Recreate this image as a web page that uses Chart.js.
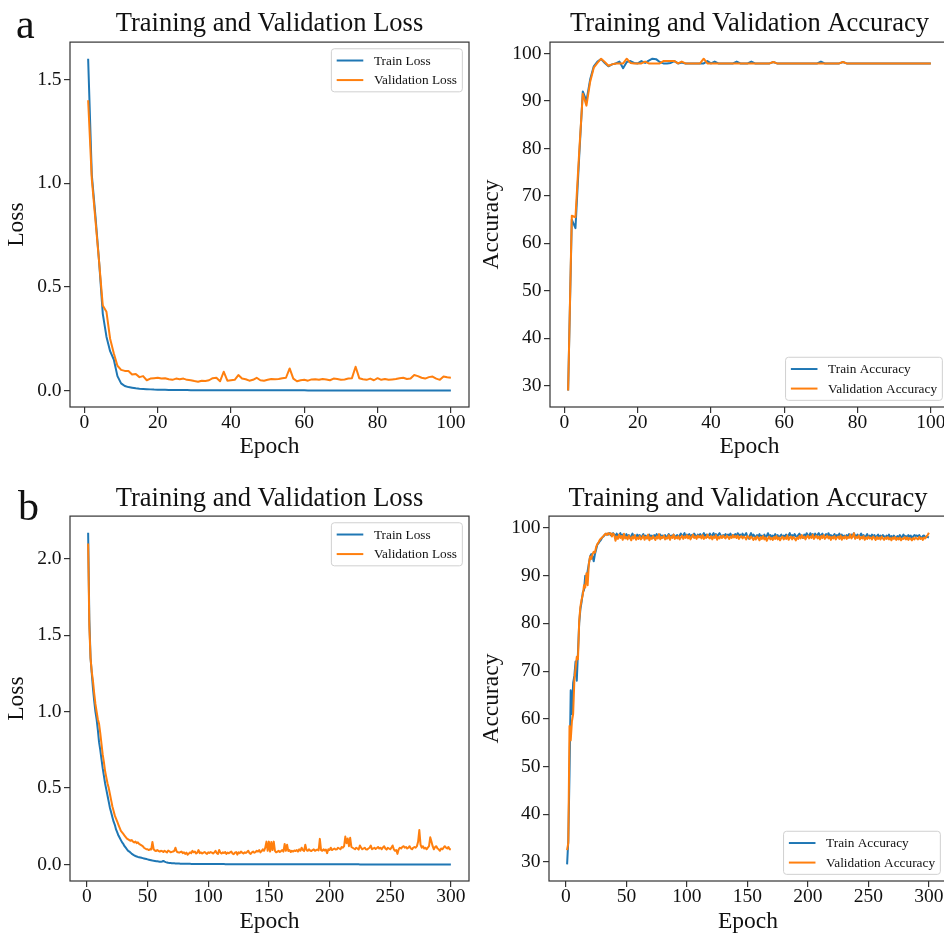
<!DOCTYPE html>
<html>
<head>
<meta charset="utf-8">
<script src="https://cdn.jsdelivr.net/npm/chart.js@4/dist/chart.umd.min.js"></script>
<style>
  html, body { margin: 0; padding: 0; background: #fff; overflow: hidden; }
  #wrap { position: relative; width: 944px; height: 934px; overflow: hidden; background: #fff; }
  canvas { position: absolute; }
  .panel { position: absolute; font-family: "Liberation Serif", "Times New Roman", serif; font-size: 42px; line-height: 42px; color: #111; }
</style>
</head>
<body>
<div id="wrap">
  <canvas id="cA1" width="472" height="470" style="left:0;top:0"></canvas>
  <canvas id="cA2" width="480" height="470" style="left:472px;top:0"></canvas>
  <canvas id="cB1" width="472" height="470" style="left:0;top:470px"></canvas>
  <canvas id="cB2" width="480" height="470" style="left:472px;top:470px"></canvas>
  <div class="panel" style="left:16px;top:3px">a</div>
  <div class="panel" style="left:18px;top:485px">b</div>
</div>
<script>
// ---------------- DATA ----------------
const seriesLabelsLoss = ["Train Loss", "Validation Loss"];
const seriesLabelsAcc = ["Train Accuracy", "Validation Accuracy"];

const lossTicks = [0.0, 0.5, 1.0, 1.5];
const lossTicksB = [0.0, 0.5, 1.0, 1.5, 2.0];
const accTicks = [30, 40, 50, 60, 70, 80, 90, 100];
const epochTicksA = [0, 20, 40, 60, 80, 100];
const epochTicksB = [0, 50, 100, 150, 200, 250, 300];

// Panel a: 100 epochs
const trainLossA = [
1.60,1.04,0.84,0.62,0.37,0.26,0.19,0.15,0.07,0.035,
0.022,0.017,0.014,0.011,0.009,0.008,0.007,0.006,0.005,0.0045,
0.004,0.0037,0.0034,0.0031,0.0029,0.0027,0.0025,0.0024,0.0023,0.0022,
0.0021,0.0020,0.0020,0.0019,0.0019,0.0018,0.0018,0.0017,0.0017,0.0016,
0.0016,0.0016,0.0015,0.0015,0.0015,0.0014,0.0014,0.0014,0.0014,0.0013,
0.0013,0.0013,0.0013,0.0013,0.0012,0.0012,0.0012,0.0012,0.0012,0.0012,
0.0011,0.0011,0.0011,0.0011,0.0011,0.0011,0.0011,0.0011,0.0011,0.0011,
0.0011,0.0011,0.0011,0.0011,0.0011,0.0010,0.0010,0.0010,0.0010,0.0010,
0.0010,0.0010,0.0010,0.0010,0.0010,0.0010,0.0010,0.0010,0.0010,0.0010,
0.0010,0.0010,0.0010,0.0010,0.0010,0.0010,0.0010,0.0010,0.0010,0.0010];
const valLossA = [
1.40,1.02,0.82,0.62,0.41,0.38,0.25,0.18,0.12,0.10,
0.095,0.095,0.078,0.080,0.065,0.070,0.050,0.058,0.060,0.062,
0.058,0.060,0.055,0.052,0.058,0.055,0.058,0.052,0.050,0.046,
0.043,0.048,0.046,0.050,0.060,0.062,0.045,0.091,0.048,0.050,
0.052,0.075,0.058,0.055,0.048,0.052,0.062,0.050,0.048,0.052,
0.056,0.055,0.056,0.060,0.062,0.107,0.058,0.045,0.050,0.052,
0.048,0.054,0.055,0.052,0.056,0.054,0.050,0.058,0.056,0.052,
0.054,0.058,0.060,0.115,0.060,0.055,0.052,0.058,0.050,0.060,
0.052,0.056,0.052,0.054,0.056,0.060,0.062,0.056,0.058,0.075,
0.070,0.062,0.058,0.065,0.068,0.058,0.052,0.068,0.064,0.062];
const trainAccA = [
29.0,65.0,63.2,78.0,92.0,90.0,94.5,97.3,98.3,98.8,
98.0,97.3,97.7,97.9,98.3,96.9,98.2,98.4,98.0,97.9,
98.4,98.0,98.5,98.9,98.8,98.2,97.9,97.9,98.0,98.4,
97.9,98.1,97.9,97.9,97.9,97.9,97.9,97.9,98.4,97.9,
98.3,97.9,97.9,97.9,97.9,97.9,98.3,97.9,97.9,97.9,
98.3,97.9,97.9,97.9,97.9,97.9,98.2,97.9,97.9,97.9,
97.9,97.9,97.9,97.9,97.9,97.9,97.9,97.9,97.9,98.3,
97.9,97.9,97.9,97.9,97.9,98.2,97.9,97.9,97.9,97.9,
97.9,97.9,97.9,97.9,97.9,97.9,97.9,97.9,97.9,97.9,
97.9,97.9,97.9,97.9,97.9,97.9,97.9,97.9,97.9,97.9];
const valAccA = [
29.0,65.8,65.5,79.0,91.5,89.0,94.0,97.0,98.0,98.9,
98.2,97.4,97.7,97.9,97.9,97.9,98.9,98.0,97.9,97.9,
97.9,98.3,97.9,97.9,97.9,97.9,98.4,98.4,98.4,98.4,
97.9,98.3,97.9,97.9,97.9,97.9,97.9,98.9,97.9,97.9,
97.9,97.9,97.9,97.9,97.9,97.9,97.9,97.9,97.9,97.9,
97.9,97.9,97.9,97.9,97.9,97.9,98.2,97.9,97.9,97.9,
97.9,97.9,97.9,97.9,97.9,97.9,97.9,97.9,97.9,97.9,
97.9,97.9,97.9,97.9,97.9,98.2,97.9,97.9,97.9,97.9,
97.9,97.9,97.9,97.9,97.9,97.9,97.9,97.9,97.9,97.9,
97.9,97.9,97.9,97.9,97.9,97.9,97.9,97.9,97.9,97.9];

// Panel b: 300 epochs
const trainLossB = [
2.17,1.60,1.35,1.25,1.15,1.07,1.00,0.95,0.88,0.80,
0.75,0.69,0.63,0.58,0.53,0.49,0.45,0.41,0.37,0.34,
0.31,0.28,0.26,0.23,0.21,0.19,0.175,0.16,0.145,0.135,
0.12,0.11,0.10,0.09,0.085,0.078,0.070,0.065,0.060,0.056,
0.053,0.050,0.048,0.046,0.044,0.042,0.040,0.038,0.036,0.034,
0.032,0.030,0.028,0.026,0.025,0.024,0.022,0.021,0.020,0.019,
0.018,0.020,0.024,0.019,0.016,0.014,0.012,0.011,0.010,0.009,
0.0085,0.0080,0.0075,0.0070,0.0068,0.0065,0.0060,0.0058,0.0055,0.0053,
0.0050,0.0049,0.0048,0.0047,0.0046,0.0045,0.0044,0.0043,0.0042,0.0041,
0.0040,0.0039,0.0039,0.0038,0.0037,0.0037,0.0036,0.0035,0.0035,0.0034,
0.0034,0.0033,0.0033,0.0032,0.0032,0.0031,0.0031,0.0030,0.0030,0.0030,
0.0029,0.0029,0.0029,0.0028,0.0028,0.0028,0.0027,0.0027,0.0027,0.0026,
0.0026,0.0026,0.0026,0.0025,0.0025,0.0025,0.0025,0.0024,0.0024,0.0024,
0.0024,0.0023,0.0023,0.0023,0.0023,0.0022,0.0022,0.0022,0.0022,0.0022,
0.0021,0.0021,0.0021,0.0021,0.0021,0.0021,0.0021,0.0020,0.0020,0.0020,
0.0020,0.0020,0.0020,0.0020,0.0020,0.0019,0.0019,0.0019,0.0019,0.0019,
0.0019,0.0019,0.0019,0.0018,0.0018,0.0018,0.0018,0.0018,0.0018,0.0018,
0.0018,0.0017,0.0017,0.0017,0.0017,0.0017,0.0017,0.0017,0.0017,0.0017,
0.0016,0.0016,0.0016,0.0016,0.0016,0.0016,0.0016,0.0016,0.0016,0.0016,
0.0015,0.0015,0.0015,0.0015,0.0015,0.0015,0.0015,0.0015,0.0015,0.0015,
0.0015,0.0014,0.0014,0.0014,0.0014,0.0014,0.0014,0.0014,0.0014,0.0014,
0.0014,0.0014,0.0013,0.0013,0.0013,0.0013,0.0013,0.0013,0.0013,0.0013,
0.0013,0.0013,0.0013,0.0013,0.0012,0.0012,0.0012,0.0012,0.0012,0.0012,
0.0012,0.0012,0.0012,0.0012,0.0012,0.0012,0.0012,0.0011,0.0011,0.0011,
0.0011,0.0011,0.0011,0.0011,0.0011,0.0011,0.0011,0.0011,0.0011,0.0011,
0.0011,0.0011,0.0011,0.0011,0.0010,0.0010,0.0010,0.0010,0.0010,0.0010,
0.0010,0.0010,0.0010,0.0010,0.0010,0.0010,0.0010,0.0010,0.0010,0.0010,
0.0010,0.0010,0.0010,0.0010,0.0010,0.0010,0.0010,0.0010,0.0010,0.0010,
0.0010,0.0010,0.0010,0.0010,0.0010,0.0010,0.0010,0.0010,0.0010,0.0010,
0.0010,0.0010,0.0010,0.0010,0.0010,0.0010,0.0010,0.0010,0.0010,0.0010];
const valLossB = [
2.10,1.55,1.35,1.26,1.20,1.12,1.05,1.00,0.95,0.92,
0.86,0.79,0.72,0.67,0.61,0.57,0.53,0.50,0.46,0.42,
0.38,0.35,0.32,0.30,0.28,0.26,0.24,0.22,0.21,0.20,
0.19,0.18,0.17,0.165,0.16,0.155,0.16,0.15,0.145,0.15,
0.14,0.145,0.135,0.13,0.125,0.12,0.11,0.105,0.10,0.10,
0.095,0.10,0.098,0.148,0.10,0.092,0.088,0.095,0.09,0.085,
0.09,0.088,0.082,0.09,0.085,0.08,0.092,0.087,0.08,0.083,
0.085,0.09,0.11,0.085,0.08,0.078,0.082,0.085,0.075,0.08,
0.07,0.078,0.065,0.072,0.08,0.075,0.09,0.08,0.085,0.072,
0.078,0.095,0.075,0.08,0.072,0.078,0.082,0.075,0.07,0.08,
0.076,0.082,0.078,0.072,0.08,0.09,0.075,0.07,0.095,0.078,
0.072,0.08,0.075,0.082,0.07,0.078,0.074,0.08,0.085,0.072,
0.068,0.078,0.082,0.065,0.08,0.074,0.085,0.078,0.072,0.08,
0.076,0.082,0.09,0.075,0.07,0.08,0.085,0.078,0.082,0.09,
0.085,0.095,0.08,0.088,0.10,0.09,0.11,0.15,0.09,0.15,
0.085,0.148,0.095,0.15,0.09,0.08,0.085,0.09,0.082,0.088,
0.095,0.085,0.135,0.09,0.13,0.088,0.095,0.082,0.09,0.085,
0.092,0.088,0.095,0.085,0.10,0.09,0.11,0.095,0.088,0.13,
0.095,0.09,0.10,0.092,0.088,0.095,0.10,0.09,0.095,0.098,
0.092,0.168,0.095,0.09,0.10,0.092,0.098,0.075,0.10,0.095,
0.11,0.095,0.10,0.105,0.098,0.10,0.11,0.105,0.10,0.115,
0.11,0.12,0.183,0.14,0.17,0.12,0.175,0.115,0.11,0.105,
0.10,0.11,0.105,0.098,0.125,0.11,0.10,0.105,0.11,0.10,
0.098,0.105,0.11,0.124,0.10,0.105,0.11,0.102,0.108,0.115,
0.105,0.11,0.10,0.112,0.12,0.105,0.098,0.11,0.105,0.10,
0.11,0.125,0.10,0.09,0.095,0.07,0.10,0.11,0.105,0.115,
0.12,0.11,0.115,0.105,0.11,0.12,0.105,0.10,0.11,0.115,
0.11,0.12,0.15,0.226,0.13,0.11,0.12,0.105,0.11,0.10,
0.11,0.12,0.178,0.15,0.12,0.10,0.115,0.12,0.105,0.10,
0.09,0.105,0.10,0.11,0.12,0.11,0.105,0.115,0.10,0.10];
const trainAccB = [
29.5,34.5,48.5,66.0,61.0,67.5,69.0,72.0,68.0,74.0,
80.0,83.0,84.5,86.5,87.0,90.0,89.5,91.0,92.5,94.0,
94.5,94.0,93.0,94.5,95.5,96.5,96.8,97.2,97.5,98.0,
98.2,98.5,98.7,98.8,98.6,98.9,98.5,98.7,98.9,98.6,
98.3,98.8,98.1,98.5,98.9,98.2,98.6,98.4,98.0,98.7,
98.2,98.5,97.9,98.3,98.8,98.1,98.4,97.8,98.6,98.2,
98.5,97.9,98.3,98.7,98.0,98.4,97.8,98.2,98.6,98.1,
98.4,97.9,98.5,98.2,98.7,98.0,98.3,98.6,97.9,98.4,
98.1,98.5,97.8,98.3,98.7,98.0,98.4,98.2,98.6,97.9,
98.3,98.5,98.0,98.4,98.8,98.2,98.5,98.9,98.1,98.6,
98.3,98.7,98.0,98.5,98.2,98.8,98.4,98.1,98.6,98.3,
98.7,98.2,98.5,98.9,98.3,98.6,98.1,98.4,98.8,98.2,
98.5,98.9,98.3,98.7,98.2,98.6,98.9,98.4,98.1,98.5,
98.3,98.7,98.2,98.6,98.4,98.8,98.1,98.5,98.3,98.7,
98.2,98.9,98.4,98.6,98.1,98.8,98.3,98.5,98.9,98.2,
97.8,98.4,98.9,98.1,98.6,98.3,97.9,98.5,98.2,98.7,
98.0,98.4,98.1,98.6,97.9,98.3,98.9,98.2,98.5,98.0,
98.4,98.1,98.7,98.2,98.5,97.9,98.3,98.6,98.1,98.4,
98.2,98.6,97.9,98.4,98.9,98.1,98.5,98.2,98.7,98.3,
98.0,98.5,98.8,98.2,98.4,97.9,98.6,98.3,98.9,98.5,
98.2,98.9,98.4,98.7,98.1,98.8,98.3,98.6,98.9,98.2,
98.5,98.8,98.1,98.4,98.7,98.2,98.9,98.3,98.5,98.0,
98.4,98.7,98.1,98.5,98.3,98.8,98.2,98.6,97.9,98.4,
98.2,98.5,98.0,98.7,98.3,98.6,98.1,98.9,98.4,98.2,
98.6,98.1,98.4,98.8,98.2,98.5,97.9,98.3,98.7,98.1,
98.4,98.0,98.6,98.2,98.5,97.8,98.3,98.6,98.1,98.4,
98.0,98.5,98.2,97.9,98.4,98.1,98.6,97.8,98.3,98.0,
98.4,98.1,97.8,98.3,98.0,98.5,97.9,98.2,98.6,98.1,
98.3,97.9,98.5,98.1,98.4,97.8,98.2,98.5,98.3,98.4,
98.2,98.5,98.1,97.9,98.3,98.4,98.0,98.2,98.1,98.0];
const valAccB = [
32.5,34.0,58.5,55.5,59.5,61.0,68.0,70.5,73.0,72.5,
80.5,83.5,85.0,86.0,88.0,87.5,90.5,88.0,92.5,94.0,
93.5,94.5,95.0,94.8,96.0,96.6,97.0,97.5,97.8,98.0,
98.3,98.6,98.8,98.5,98.9,98.7,98.9,98.2,98.8,98.5,
97.3,98.2,97.7,98.6,97.9,98.3,97.5,98.8,97.8,98.1,
97.6,98.4,97.9,97.4,98.2,97.8,98.5,97.5,98.0,97.7,
98.3,97.6,97.9,98.4,97.5,98.1,97.8,98.6,97.4,98.0,
97.7,98.3,97.9,97.5,98.2,97.8,98.7,97.6,98.1,97.9,
98.4,97.6,98.0,97.8,98.5,97.5,98.2,97.9,98.6,97.7,
98.1,97.8,98.3,97.6,98.0,98.4,97.7,98.2,97.9,98.5,
97.8,98.3,97.6,98.1,98.6,97.9,98.2,97.7,98.4,98.0,
98.3,97.8,98.5,97.7,98.1,97.9,98.6,98.0,97.8,98.3,
97.6,98.2,97.9,98.5,97.5,98.1,97.8,98.3,97.9,98.4,
98.0,97.8,98.4,98.1,97.7,98.2,97.9,98.5,98.0,98.3,
97.9,98.4,97.7,98.1,98.3,97.8,98.2,98.0,97.6,98.3,
98.1,97.7,98.2,97.9,97.5,98.0,97.6,98.2,97.9,97.4,
98.1,97.7,98.3,97.6,98.0,97.3,97.8,98.2,97.6,97.9,
97.5,98.1,97.7,98.3,97.6,98.0,97.4,97.9,98.2,97.6,
98.0,97.7,98.4,97.5,97.9,98.2,97.6,98.1,97.8,97.4,
98.0,97.7,98.3,97.8,98.5,97.9,98.2,97.6,98.1,98.4,
97.8,98.2,97.9,98.6,97.7,98.1,98.4,97.8,98.2,97.6,
98.3,97.9,98.5,97.7,98.0,98.4,97.8,98.2,97.5,98.1,
97.8,98.3,97.6,98.0,98.2,97.7,98.4,97.5,98.1,97.8,
98.3,97.7,98.1,97.9,98.6,97.8,98.2,98.9,97.7,98.1,
97.9,98.4,97.6,98.1,97.8,98.3,97.5,98.0,97.7,98.2,
97.8,98.0,97.6,98.2,97.9,97.5,98.1,97.7,98.0,97.6,
98.2,97.8,97.5,98.0,97.7,98.1,97.6,97.9,97.4,98.0,
97.7,98.1,97.5,97.9,97.6,98.0,97.4,97.8,97.7,98.1,
97.6,98.0,97.5,97.9,97.7,97.4,97.9,97.6,98.0,97.8,
97.6,98.1,97.7,97.9,97.5,98.0,97.8,98.2,98.5,99.0];

// ---------------- STYLE ----------------
const FONT = '"Liberation Serif", "Times New Roman", serif';
const TEXT = '#111';
const AXIS = '#333';
const BLUE = '#1f77b4';
const ORANGE = '#ff7f0e';

function pts(arr) { return arr.map((v, i) => ({ x: i + 1, y: v })); }
function padLim(lo, hi) { const m = (hi - lo) * 0.05; return [lo - m, hi + m]; }
function dataLim(a, b) { const all = a.concat(b); return padLim(Math.min(...all), Math.max(...all)); }

const framePlugin = {
  id: 'frame',
  afterDatasetsDraw(chart) {
    const { ctx, chartArea: ca } = chart;
    ctx.save();
    ctx.strokeStyle = AXIS;
    ctx.lineWidth = 1.2;
    ctx.strokeRect(ca.left, ca.top, ca.right - ca.left, ca.bottom - ca.top);
    ctx.restore();
  }
};

const legendPlugin = {
  id: 'mplLegend',
  afterDraw(chart, args, opts) {
    const { ctx, chartArea: ca } = chart;
    const fs = opts.fontSize;
    ctx.save();
    ctx.font = fs + 'px ' + FONT;
    const items = chart.data.datasets.map(d => ({ label: d.label, color: d.borderColor }));
    const textW = Math.max(...items.map(i => ctx.measureText(i.label).width));
    const pad = 0.4 * fs, hl = 2 * fs, htp = 0.8 * fs, ls = 0.5 * fs, bap = 0.5 * fs;
    const rowH = 0.97 * fs;
    const w = pad * 2 + hl + htp + textW;
    const h = pad * 2 + rowH * items.length + ls * (items.length - 1);
    const x = ca.right - bap - w;
    const y = opts.loc === 'upper right' ? ca.top + bap : ca.bottom - bap - h;
    const r = 3;
    ctx.beginPath();
    ctx.moveTo(x + r, y);
    ctx.lineTo(x + w - r, y); ctx.quadraticCurveTo(x + w, y, x + w, y + r);
    ctx.lineTo(x + w, y + h - r); ctx.quadraticCurveTo(x + w, y + h, x + w - r, y + h);
    ctx.lineTo(x + r, y + h); ctx.quadraticCurveTo(x, y + h, x, y + h - r);
    ctx.lineTo(x, y + r); ctx.quadraticCurveTo(x, y, x + r, y);
    ctx.closePath();
    ctx.fillStyle = 'rgba(255,255,255,0.8)';
    ctx.fill();
    ctx.strokeStyle = '#d0d0d0';
    ctx.lineWidth = 1;
    ctx.stroke();
    items.forEach((it, i) => {
      const cy = y + pad + rowH / 2 + i * (rowH + ls);
      ctx.beginPath();
      ctx.moveTo(x + pad, cy);
      ctx.lineTo(x + pad + hl, cy);
      ctx.strokeStyle = it.color;
      ctx.lineWidth = 2;
      ctx.stroke();
      ctx.fillStyle = TEXT;
      ctx.textBaseline = 'middle';
      ctx.textAlign = 'left';
      ctx.fillText(it.label, x + pad + hl + htp, cy + 0.5);
    });
    ctx.restore();
  }
};

function makeChart(id, cfg) {
  const n = cfg.train.length;
  const xl = padLim(1, n);
  const yl = dataLim(cfg.train, cfg.val);
  new Chart(document.getElementById(id), {
    type: 'line',
    data: {
      datasets: [
        { label: cfg.labels[0], data: pts(cfg.train), borderColor: BLUE, backgroundColor: BLUE, borderWidth: 2, order: 1 },
        { label: cfg.labels[1], data: pts(cfg.val), borderColor: ORANGE, backgroundColor: ORANGE, borderWidth: 2, order: 0 }
      ]
    },
    options: {
      responsive: false,
      animation: false,
      events: [],
      layout: { padding: { left: 0, top: 0, right: cfg.padRight, bottom: 0 } },
      elements: { point: { radius: 0 }, line: { tension: 0, borderJoinStyle: 'round', borderCapStyle: 'butt' } },
      plugins: {
        legend: { display: false },
        tooltip: { enabled: false },
        title: {
          display: true, text: cfg.title, fullSize: false, color: TEXT,
          font: { family: FONT, size: 26.5, weight: 'normal', lineHeight: 1.2 },
          padding: { top: cfg.titlePadTop, bottom: cfg.titlePadBottom }
        },
        mplLegend: { fontSize: 13.3, loc: cfg.legendLoc }
      },
      scales: {
        x: {
          type: 'linear', position: 'bottom', min: xl[0], max: xl[1],
          afterBuildTicks: (ax) => { ax.ticks = cfg.xTicks.map(v => ({ value: v })); },
          afterFit: (ax) => { ax.height = cfg.xAxisH; },
          grid: { display: true, drawOnChartArea: false, drawTicks: true, tickLength: 6, color: AXIS, lineWidth: 1.2 },
          border: { display: false },
          ticks: { color: TEXT, font: { family: FONT, size: 19.5 }, padding: -1.5, autoSkip: false, maxRotation: 0,
                   callback: (v) => String(Math.round(v)) },
          title: { display: true, text: 'Epoch', color: TEXT, font: { family: FONT, size: 23.5 }, padding: { top: 0, bottom: cfg.xTitlePad } }
        },
        y: {
          type: 'linear', position: 'left', min: yl[0], max: yl[1],
          afterBuildTicks: (ax) => { ax.ticks = cfg.yTicks.map(v => ({ value: v })); },
          afterFit: (ax) => { ax.width = cfg.yAxisW; },
          grid: { display: true, drawOnChartArea: false, drawTicks: true, tickLength: 6, color: AXIS, lineWidth: 1.2 },
          border: { display: false },
          ticks: { color: TEXT, font: { family: FONT, size: 19.5 }, padding: 2.5, autoSkip: false,
                   callback: (v) => cfg.yDecimals ? Number(v).toFixed(1) : String(Math.round(v)) },
          title: { display: true, text: cfg.yTitle, color: TEXT, font: { family: FONT, size: 23.5 }, padding: { top: cfg.yTitlePad, bottom: 0 } }
        }
      }
    },
    plugins: [framePlugin, legendPlugin]
  });
}

makeChart('cA1', { train: trainLossA, val: valLossA, labels: seriesLabelsLoss, title: 'Training and Validation Loss',
  yTitle: 'Loss', yTicks: lossTicks, xTicks: epochTicksA, yDecimals: true, legendLoc: 'upper right',
  padRight: 3, yAxisW: 70, xAxisH: 63, titlePadTop: 8.5, titlePadBottom: 1.8, xTitlePad: 8.9, yTitlePad: 3 });
makeChart('cA2', { train: trainAccA, val: valAccA, labels: seriesLabelsAcc, title: 'Training and Validation Accuracy',
  yTitle: 'Accuracy', yTicks: accTicks, xTicks: epochTicksA, yDecimals: false, legendLoc: 'lower right',
  padRight: 3, yAxisW: 78, xAxisH: 63, titlePadTop: 8.5, titlePadBottom: 1.8, xTitlePad: 8.9, yTitlePad: 5.6 });
makeChart('cB1', { train: trainLossB, val: valLossB, labels: seriesLabelsLoss, title: 'Training and Validation Loss',
  yTitle: 'Loss', yTicks: lossTicksB, xTicks: epochTicksB, yDecimals: true, legendLoc: 'upper right',
  padRight: 3, yAxisW: 70, xAxisH: 59, titlePadTop: 13.3, titlePadBottom: 1.0, xTitlePad: 3.9, yTitlePad: 3 });
makeChart('cB2', { train: trainAccB, val: valAccB, labels: seriesLabelsAcc, title: 'Training and Validation Accuracy',
  yTitle: 'Accuracy', yTicks: accTicks, xTicks: epochTicksB, yDecimals: false, legendLoc: 'lower right',
  padRight: 5, yAxisW: 77, xAxisH: 59, titlePadTop: 13.3, titlePadBottom: 1.0, xTitlePad: 3.9, yTitlePad: 5.6 });
</script>
</body>
</html>
